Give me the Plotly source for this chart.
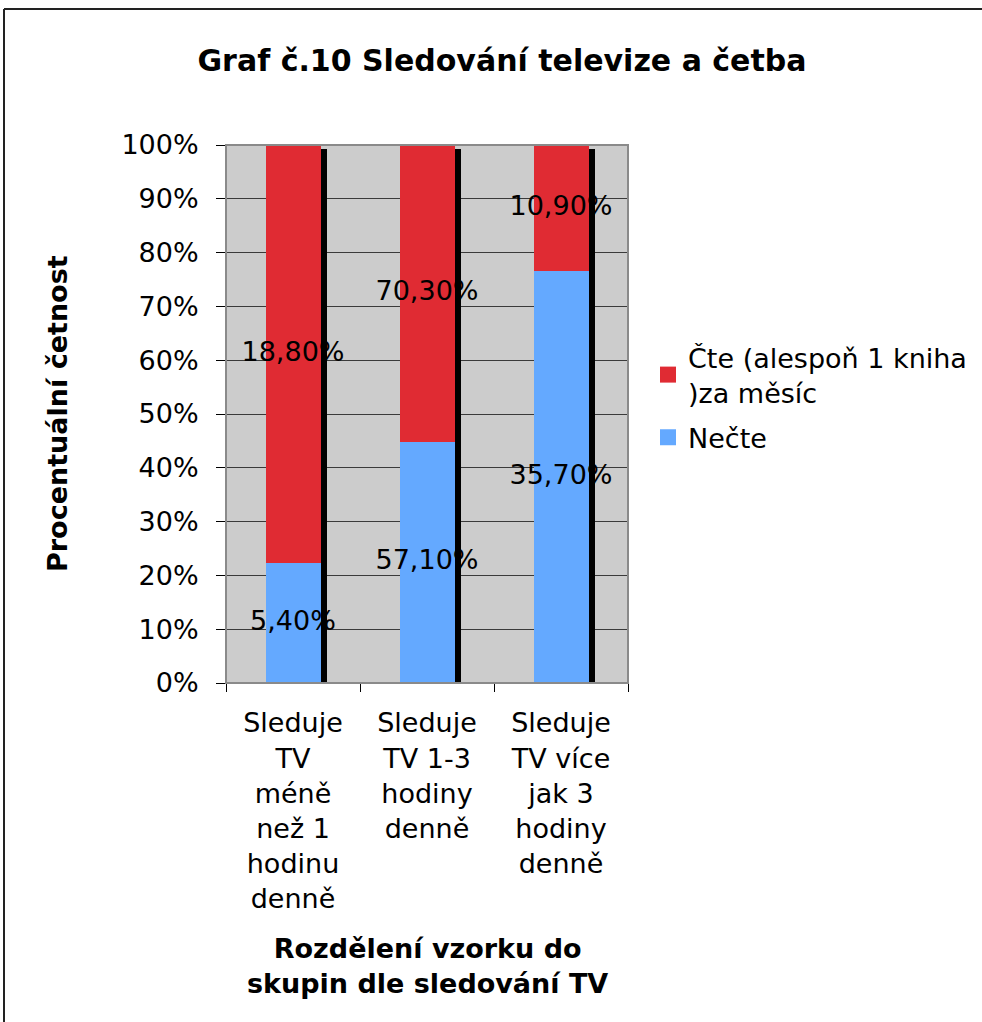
import plotly.graph_objects as go

# ---- data ----
categories = ["Sleduje TV méně než 1 hodinu denně",
              "Sleduje TV 1-3 hodiny denně",
              "Sleduje TV více jak 3 hodiny denně"]
category_labels = ["Sleduje<br>TV<br>méně<br>než 1<br>hodinu<br>denně",
                   "Sleduje<br>TV 1-3<br>hodiny<br>denně",
                   "Sleduje<br>TV více<br>jak 3<br>hodiny<br>denně"]
necte = [5.40, 57.10, 35.70]      # Nečte
cte = [18.80, 70.30, 10.90]       # Čte (alespoň 1 kniha )za měsíc
series_names = ["Čte (alespoň 1 kniha<br>)za měsíc", "Nečte"]
y_ticks = [0, 10, 20, 30, 40, 50, 60, 70, 80, 90, 100]

# ---- derived 100% stacking ----
totals = [a + b for a, b in zip(necte, cte)]
necte_pct = [a / t * 100 for a, t in zip(necte, totals)]
cte_pct = [b / t * 100 for b, t in zip(cte, totals)]

def fmt(v):
    return f"{v:.2f}".replace(".", ",") + "%"

RED = "#E02B33"
BLUE = "#64A9FF"
FONT = "DejaVu Sans"
FS = 27

plot_l, plot_r, plot_t, plot_b = 226, 628, 145, 683
W, H = 982, 1022
cat_px = (plot_r - plot_l) / len(categories)
px_per_pct = (plot_b - plot_t) / 100
bar_w = 55 / cat_px
shadow_dx = 6 / cat_px
shadow_dy = 4 / px_per_pct

fig = go.Figure()

# shadow behind each bar
fig.add_trace(go.Bar(
    x=categories, y=[100 - shadow_dy] * len(categories),
    width=bar_w, offset=-bar_w / 2 + shadow_dx,
    marker=dict(color="black", line=dict(width=0)),
    showlegend=False, hoverinfo="skip"))

fig.add_trace(go.Bar(
    x=categories, y=cte_pct, base=necte_pct, name=series_names[0],
    width=bar_w, offset=-bar_w / 2, showlegend=False,
    marker=dict(color=RED, line=dict(width=0))))

fig.add_trace(go.Bar(
    x=categories, y=necte_pct, base=[0] * len(categories), name=series_names[1],
    width=bar_w, offset=-bar_w / 2, showlegend=False,
    marker=dict(color=BLUE, line=dict(width=0))))

# data labels (original values) at segment midpoints
fig.add_trace(go.Scatter(
    x=categories + categories,
    y=[p / 2 for p in necte_pct] + [n + c / 2 for n, c in zip(necte_pct, cte_pct)],
    text=[fmt(v) for v in necte] + [fmt(v) for v in cte],
    mode="text", textfont=dict(family=FONT, size=FS, color="black"),
    showlegend=False, hoverinfo="skip"))

# legend entries with larger square keys
for i, (name, col) in enumerate(zip(series_names, [RED, BLUE])):
    fig.add_trace(go.Scatter(
        x=[None], y=[None], mode="markers", name=name, legendgroup=f"g{i}",
        marker=dict(symbol="square", size=17, color=col, line=dict(width=0))))

def px_x(p):
    return (p - plot_l) / (plot_r - plot_l)

def px_y(p):
    return (plot_b - p) / (plot_b - plot_t)

fig.update_layout(
    width=W, height=H,
    margin=dict(l=plot_l, r=W - plot_r, t=plot_t, b=H - plot_b, autoexpand=False),
    paper_bgcolor="white", plot_bgcolor="#CCCCCC",
    barmode="overlay", bargap=0,
    font=dict(family=FONT, size=FS, color="black"),
    title=dict(text="<b>Graf č.10 Sledování televize a četba</b>",
               x=502 / W, xanchor="center", y=1 - 60 / H, yanchor="middle",
               font=dict(family=FONT, size=30, color="black")),
    legend=dict(x=px_x(648), xanchor="left", y=px_y(333), yanchor="top",
                font=dict(family=FONT, size=FS, color="black"),
                bgcolor="rgba(0,0,0,0)", itemsizing="trace",
                traceorder="grouped", tracegroupgap=7),
    xaxis=dict(type="category", categoryorder="array", categoryarray=categories,
               tickmode="array", tickvals=categories, ticktext=category_labels,
               showline=True, linecolor="black", linewidth=1,
               ticks="outside", tickson="boundaries", ticklen=8, tickcolor="black",
               showgrid=False, tickfont=dict(family=FONT, size=FS, color="black"),
               ticklabelstandoff=16,
               range=[-0.5, 2.5], fixedrange=True, tickangle=0),
    yaxis=dict(range=[0, 100], tickmode="array", tickvals=y_ticks,
               ticktext=[f"{v}%" for v in y_ticks],
               showline=True, linecolor="black", linewidth=1,
               ticks="outside", ticklen=9, tickcolor="black",
               showgrid=True, gridcolor="#3a3a3a", gridwidth=1,
               zeroline=False, ticklabelstandoff=12,
               tickfont=dict(family=FONT, size=FS, color="black"), fixedrange=True),
    annotations=[
        dict(text="<b>Procentuální četnost</b>", textangle=-90,
             x=px_x(57), y=0.5, xref="paper", yref="paper",
             xanchor="center", yanchor="middle", showarrow=False,
             font=dict(family=FONT, size=27, color="black")),
        dict(text="<b>Rozdělení vzorku do<br>skupin dle sledování TV</b>",
             x=0.5, y=px_y(966), xref="paper", yref="paper",
             xanchor="center", yanchor="middle", showarrow=False,
             font=dict(family=FONT, size=27, color="black")),
    ],
    shapes=[
        # plot area border (top/right grey)
        dict(type="rect", xref="paper", yref="paper", x0=0, y0=0, x1=1, y1=1,
             line=dict(color="#8a8a8a", width=2), layer="above"),
        # outer chart frame (left and top edges visible)
        dict(type="line", xref="paper", yref="paper",
             x0=px_x(4), y0=px_y(9), x1=px_x(4), y1=px_y(H + 5),
             line=dict(color="#222222", width=2)),
        dict(type="line", xref="paper", yref="paper",
             x0=px_x(4), y0=px_y(9), x1=px_x(W + 5), y1=px_y(9),
             line=dict(color="#222222", width=2)),
    ],
)

fig.write_html("out.html", config={"displayModeBar": False},
               post_script="document.body.style.margin='0';document.body.style.overflow='hidden';")
